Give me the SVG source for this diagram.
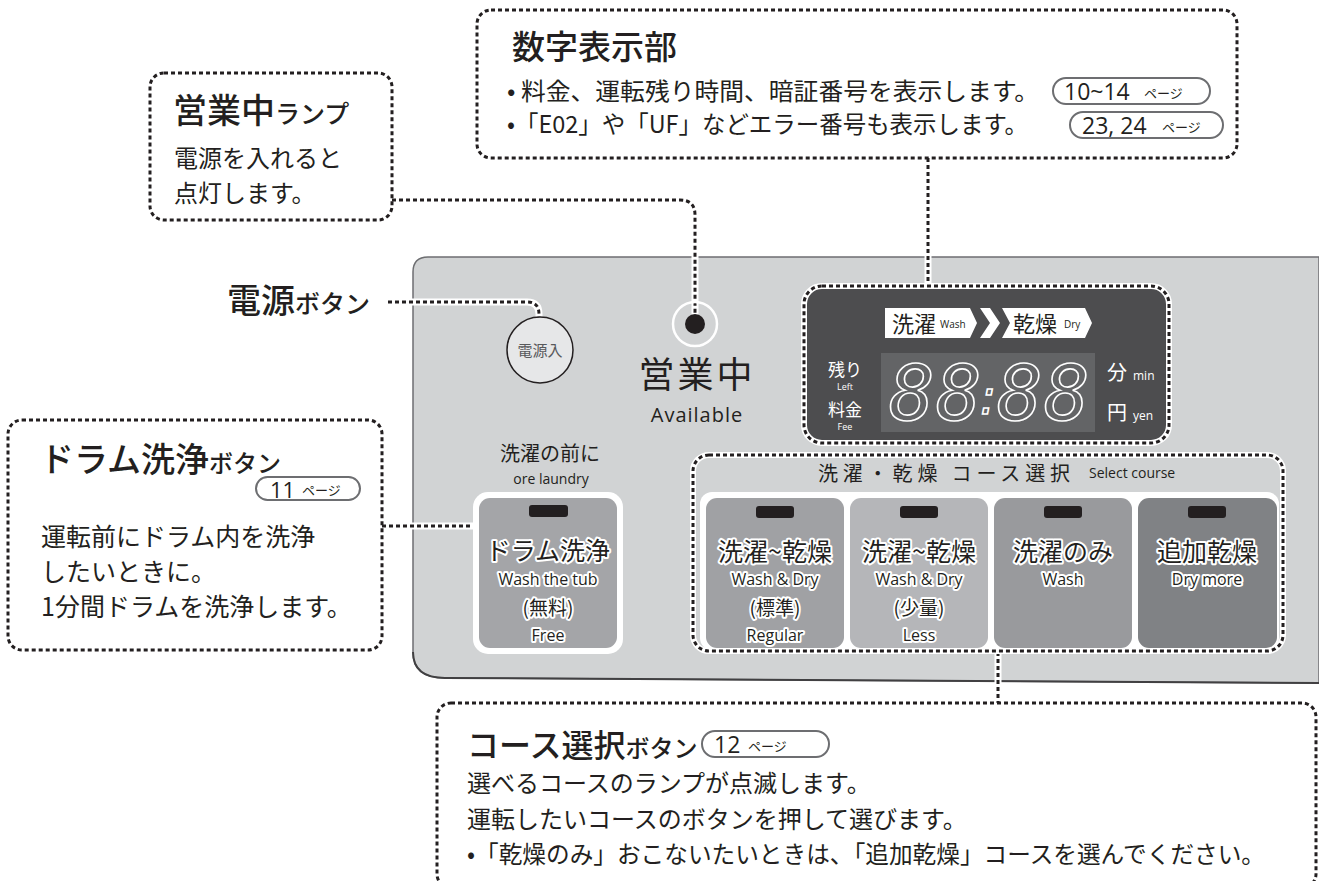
<svg xmlns="http://www.w3.org/2000/svg" width="1319" height="881" viewBox="0 0 1319 881">
<style>
.jp{font-family:"Noto Sans CJK JP","Noto Sans",sans-serif;fill:#231f20}
.en{font-family:"Open Sans","Noto Sans",sans-serif;fill:#231f20}
.halo{stroke:#fff;stroke-width:4;paint-order:stroke;stroke-linejoin:round}
.base{fill:none;stroke:#fff;stroke-width:7}
.dash{fill:none;stroke:#231f20;stroke-width:3;stroke-dasharray:4 3}
.pill{fill:#fff;stroke:#6d6e71;stroke-width:2}
.lamp{fill:#231f20}
.white{fill:#fff}
.wt{fill:#fff}
</style>
<rect width="1319" height="881" fill="#fff"/>

<g id="panel">
<path d="M413,272 Q413,257 428,257 H1319 V683 L445,678 Q413,678 413,652 Z" fill="#d1d3d4" stroke="#6d6e71" stroke-width="1.5"/>
<path d="M413,652 Q413,678 445,678 L1319,683" fill="none" stroke="#414042" stroke-width="2"/>
</g>

<g id="connectors">
<path class="base" d="M928,158 V286"/>
<path class="dash" d="M928,158 V286"/>
<path class="base" d="M392,200 H680 Q695,200 695,215 V318"/>
<path class="dash" d="M392,200 H680 Q695,200 695,215 V318"/>
<path class="base" d="M388,302 H527 Q539,302 539,314 V327"/>
<path class="dash" d="M388,302 H527 Q539,302 539,314 V327"/>
<path class="base" d="M382,526 H473"/>
<path class="dash" d="M382,526 H473"/>
<path class="base" d="M998,652 V703"/>
<path class="dash" d="M998,652 V703"/>
</g>

<g id="power-button">
<circle cx="540" cy="350" r="33" fill="#e6e7e8" stroke="#231f20" stroke-width="1.5"/>
<text class="jp" x="540" y="356" font-size="15" text-anchor="middle" style="fill:#58595b">電源入</text>
</g>

<g id="available-lamp">
<circle cx="695" cy="324" r="22" fill="none" stroke="#fff" stroke-width="2.5"/>
<circle cx="695" cy="324" r="10" fill="#231f20"/>
<text class="jp" x="697" y="388" font-size="36" text-anchor="middle" letter-spacing="3">営業中</text>
<text class="en" x="697" y="422" font-size="20" text-anchor="middle" letter-spacing="1">Available</text>
</g>

<g id="display">
<rect x="804" y="286" width="365" height="157" rx="18" fill="#4d4d4f"/>
<rect class="base" x="804" y="286" width="365" height="157" rx="18" style="stroke-width:6"/>
<rect class="dash" x="804" y="286" width="365" height="157" rx="18"/>
<path class="white" d="M885,308 H970 L977,323 L970,338 H885 Z"/>
<path class="white" d="M980,308 H990 L1000,323 L990,338 H980 L990,323 Z"/>
<path class="white" d="M1002,308 H1085 L1092,323 L1085,338 H1002 L1010,323 Z"/>
<text class="jp" x="892" y="332" font-size="22">洗濯</text>
<text class="en" x="940" y="328" font-size="10">Wash</text>
<text class="jp" x="1013" y="332" font-size="22">乾燥</text>
<text class="en" x="1064" y="328" font-size="10">Dry</text>
<rect x="881" y="353" width="214" height="79" fill="#636466"/>
<text x="0" y="420" font-family="DejaVu Sans Mono,monospace" font-style="italic" font-size="76" fill="none" stroke="#fff" stroke-width="1.6"><tspan x="889">8</tspan><tspan x="936">8</tspan><tspan x="980" font-size="48" font-family="DejaVu Sans,sans-serif" dy="-6">:</tspan><tspan x="997" dy="6">8</tspan><tspan x="1044">8</tspan></text>
<text class="jp wt" x="845" y="376" font-size="17" text-anchor="middle">残り</text>
<text class="en wt" x="845" y="390" font-size="9" text-anchor="middle">Left</text>
<text class="jp wt" x="845" y="416" font-size="17" text-anchor="middle">料金</text>
<text class="en wt" x="845" y="430" font-size="9" text-anchor="middle">Fee</text>
<text class="jp wt" x="1107" y="380" font-size="20">分</text>
<text class="en wt" x="1133" y="380" font-size="12">min</text>
<text class="jp wt" x="1107" y="420" font-size="20">円</text>
<text class="en wt" x="1133" y="420" font-size="12">yen</text>
</g>

<g id="drum-button">
<text class="jp" x="550" y="461" font-size="20" text-anchor="middle">洗濯の前に</text>
<text class="en" x="551" y="484" font-size="14" text-anchor="middle">ore laundry</text>
<rect x="473" y="492" width="150" height="162" rx="15" fill="#fff"/>
<rect x="479" y="498" width="138" height="150" rx="11" fill="#a4a5a8"/>
<rect class="lamp" x="529" y="505" width="39" height="12" rx="3"/>
<text class="jp halo" x="548" y="560" font-size="25" text-anchor="middle">ドラム洗浄</text>
<text class="en halo" x="548" y="585" font-size="16" text-anchor="middle">Wash the tub</text>
<text class="jp halo" x="548" y="615" font-size="19" text-anchor="middle">(無料)</text>
<text class="en halo" x="548" y="641" font-size="16" text-anchor="middle">Free</text>
</g>

<g id="course-select">
<rect x="693" y="455" width="590" height="196" rx="16" fill="#d1d3d4"/>
<rect x="700" y="492" width="579" height="158" rx="12" fill="#fff"/>
<text class="jp" x="818" y="481" font-size="20" textLength="252" lengthAdjust="spacing">洗濯・乾燥 コース選択</text>
<text class="en" x="1089" y="478" font-size="14">Select course</text>
<g id="btn-regular">
<rect x="706" y="498" width="138" height="150" rx="11" fill="#a0a1a4"/>
<rect class="lamp" x="756" y="506" width="38" height="12" rx="3"/>
<text class="jp halo" x="775" y="561" font-size="25" text-anchor="middle">洗濯~乾燥</text>
<text class="en halo" x="775" y="585" font-size="16" text-anchor="middle">Wash &amp; Dry</text>
<text class="jp halo" x="775" y="615" font-size="19" text-anchor="middle">(標準)</text>
<text class="en halo" x="775" y="641" font-size="16" text-anchor="middle">Regular</text>
</g>
<g id="btn-less">
<rect x="850" y="498" width="138" height="150" rx="11" fill="#b5b6b9"/>
<rect class="lamp" x="900" y="506" width="38" height="12" rx="3"/>
<text class="jp halo" x="919" y="561" font-size="25" text-anchor="middle">洗濯~乾燥</text>
<text class="en halo" x="919" y="585" font-size="16" text-anchor="middle">Wash &amp; Dry</text>
<text class="jp halo" x="919" y="615" font-size="19" text-anchor="middle">(少量)</text>
<text class="en halo" x="919" y="641" font-size="16" text-anchor="middle">Less</text>
</g>
<g id="btn-wash">
<rect x="994" y="498" width="138" height="150" rx="11" fill="#999a9d"/>
<rect class="lamp" x="1044" y="506" width="38" height="12" rx="3"/>
<text class="jp halo" x="1063" y="561" font-size="25" text-anchor="middle">洗濯のみ</text>
<text class="en halo" x="1063" y="585" font-size="16" text-anchor="middle">Wash</text>
</g>
<g id="btn-dry">
<rect x="1138" y="498" width="139" height="150" rx="11" fill="#808285"/>
<rect class="lamp" x="1188" y="506" width="38" height="12" rx="3"/>
<text class="jp halo" x="1207" y="561" font-size="25" text-anchor="middle">追加乾燥</text>
<text class="en halo" x="1207" y="585" font-size="16" text-anchor="middle">Dry more</text>
</g>
<rect class="base" x="693" y="455" width="590" height="196" rx="16" style="stroke-width:6"/>
<rect class="dash" x="693" y="455" width="590" height="196" rx="16"/>
</g>

<g id="box-display">
<rect class="dash" x="477" y="10" width="760" height="148" rx="14"/>
<text class="jp" x="512" y="59" font-size="33" font-weight="500">数字表示部</text>
<text class="jp" x="507" y="100" font-size="24" textLength="532" lengthAdjust="spacingAndGlyphs">• 料金、運転残り時間、暗証番号を表示します。</text>
<text class="jp" x="507" y="133" font-size="24" textLength="521" lengthAdjust="spacingAndGlyphs">•「E02」や「UF」などエラー番号も表示します。</text>
<rect class="pill" x="1053" y="78" width="157" height="26" rx="13"/>
<text class="en" x="1064" y="100" font-size="23">10~14</text>
<text class="jp" x="1144" y="98" font-size="13">ページ</text>
<rect class="pill" x="1070" y="112" width="153" height="26" rx="13"/>
<text class="en" x="1082" y="134" font-size="23">23, 24</text>
<text class="jp" x="1162" y="132" font-size="13">ページ</text>
</g>

<g id="box-lamp">
<rect class="dash" x="150" y="73" width="242" height="147" rx="14"/>
<text class="jp" x="173" y="123" font-size="34" font-weight="500">営業中<tspan font-size="25">ランプ</tspan></text>
<text class="jp" x="174" y="167" font-size="24">電源を入れると</text>
<text class="jp" x="174" y="202" font-size="24">点灯します。</text>
</g>

<g id="label-power">
<text class="jp" x="227" y="313" font-size="34" font-weight="500">電源<tspan font-size="25">ボタン</tspan></text>
</g>

<g id="box-drum">
<rect class="dash" x="8" y="420" width="374" height="230" rx="14"/>
<text class="jp" x="40" y="472" font-size="34" font-weight="500">ドラム洗浄<tspan font-size="24">ボタン</tspan></text>
<rect class="pill" x="256" y="477" width="104" height="23" rx="11.5"/>
<text class="en" x="270" y="498" font-size="22">11</text>
<text class="jp" x="302" y="495" font-size="13">ページ</text>
<text class="jp" x="41" y="546" font-size="25">運転前にドラム内を洗浄</text>
<text class="jp" x="41" y="581" font-size="25">したいときに。</text>
<text class="jp" x="41" y="616" font-size="25">1分間ドラムを洗浄します。</text>
</g>

<g id="box-course">
<rect class="dash" x="437" y="703" width="879" height="185" rx="14"/>
<text class="jp" x="467" y="757" font-size="32" font-weight="500">コース選択<tspan font-size="24">ボタン</tspan></text>
<rect class="pill" x="702" y="731" width="127" height="26" rx="13"/>
<text class="en" x="714" y="753" font-size="23">12</text>
<text class="jp" x="748" y="751" font-size="13">ページ</text>
<text class="jp" x="467" y="792" font-size="24">選べるコースのランプが点滅します。</text>
<text class="jp" x="467" y="828" font-size="24">運転したいコースのボタンを押して選びます。</text>
<text class="jp" x="467" y="863" font-size="24" textLength="798" lengthAdjust="spacingAndGlyphs">•「乾燥のみ」おこないたいときは、「追加乾燥」コースを選んでください。</text>
</g>
</svg>
